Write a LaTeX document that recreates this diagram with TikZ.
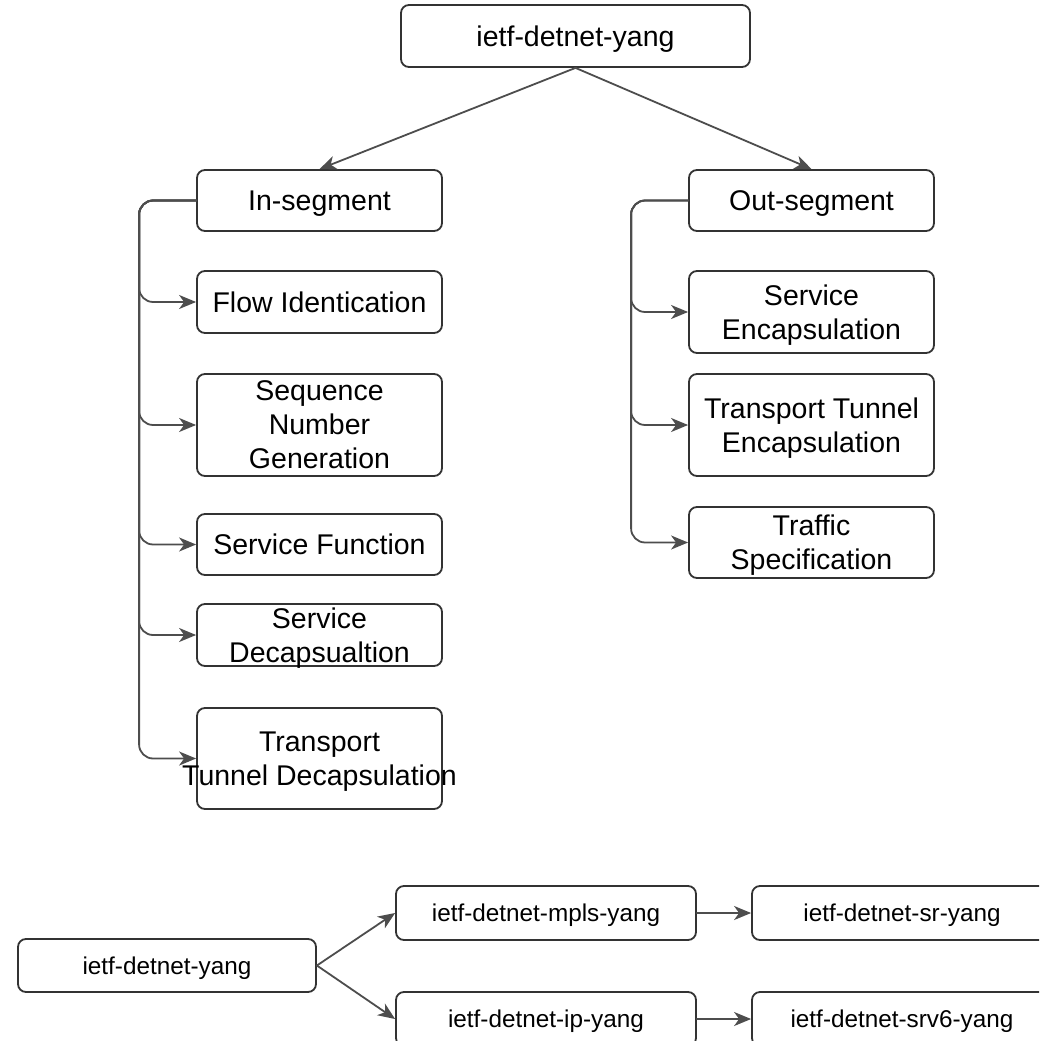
\documentclass[tikz,border=0pt]{standalone}
\usepackage{fontspec}
\setmainfont{Liberation Sans}
\usepackage{tikz}
\usetikzlibrary{arrows.meta, positioning, calc}
\definecolor{boxline}{RGB}{51, 51, 51}
\definecolor{linkgray}{RGB}{77, 77, 77}

\begin{document}
\begin{tikzpicture}[x=1pt, y=-1pt, line cap=round, line join=round,
    module/.style={draw=boxline, line width=1.8pt, rounded corners=8pt, fill=white,
      inner sep=0pt, align=center, minimum width=245pt, text depth=0pt,
      font=\fontsize{28.5}{34}\selectfont},
    smallmod/.style={module, minimum width=300pt, minimum height=54pt,
      font=\fontsize{24.3}{29}\selectfont},
    link/.style={draw=linkgray, line width=1.8pt,
      -{Stealth[length=17pt, width=14pt, inset=5pt]}},
    trunk/.style={link, rounded corners=14pt}]
			\clip (0,0) rectangle (1039,1041);

			% -- Top module --
			\node[module, minimum width=349pt, minimum height=62pt] (top) at (575.5, 36) {ietf-detnet-yang};

			% -- In-segment branch --
			\node[module, minimum height=61pt] (inseg) at (319.5, 200.5) {In-segment};
			\node[module, minimum height=62pt] (flowid) at (319.5, 302) {Flow Identication};
			\node[module, minimum height=102pt] (seqgen) at (319.5, 425) {Sequence\\Number\\Generation};
			\node[module, minimum height=61pt] (svcfunc) at (319.5, 544.5) {Service Function};
			\node[module, minimum height=62pt] (svcdecap) at (319.5, 635) {Service\\Decapsualtion};
			\node[module, minimum height=101pt] (tundecap) at (319.5, 758.5) {Transport\\\makebox[0pt]{Tunnel Decapsulation}};

			% -- Out-segment branch --
			\node[module, minimum height=61pt] (outseg) at (811.5, 200.5) {Out-segment};
			\node[module, minimum height=82pt] (svcencap) at (811.5, 312) {Service\\Encapsulation};
			\node[module, minimum height=102pt] (tunencap) at (811.5, 425) {Transport Tunnel\\Encapsulation};
			\node[module, minimum height=71pt] (trafspec) at (811.5, 542.5) {Traffic\\Specification};

			\draw[link] (top.south) -- (inseg.north);
			\draw[link] (top.south) -- (outseg.north);

			\foreach \t in {flowid, seqgen, svcfunc, svcdecap, tundecap}
				\draw[trunk] (inseg.west) -- ++(-57,0) |- (\t.west);
			\foreach \t in {svcencap, tunencap, trafspec}
				\draw[trunk] (outseg.west) -- ++(-57,0) |- (\t.west);

			% -- Module dependencies (bottom) --
			\node[smallmod, minimum width=298pt, minimum height=53pt] (base) at (167, 965.5) {ietf-detnet-yang};
			\node[smallmod] (mpls) at (546, 913) {ietf-detnet-mpls-yang};
			\node[smallmod] (ip) at (546, 1019) {ietf-detnet-ip-yang};
			\node[smallmod] (sr) at (902, 913) {ietf-detnet-sr-yang};
			\node[smallmod] (srv6) at (902, 1019) {ietf-detnet-srv6-yang};

			\draw[link] (base.east) -- (mpls.west);
			\draw[link] (base.east) -- (ip.west);
			\draw[link] (mpls) -- (sr);
			\draw[link] (ip) -- (srv6);

		\end{tikzpicture}
\end{document}
